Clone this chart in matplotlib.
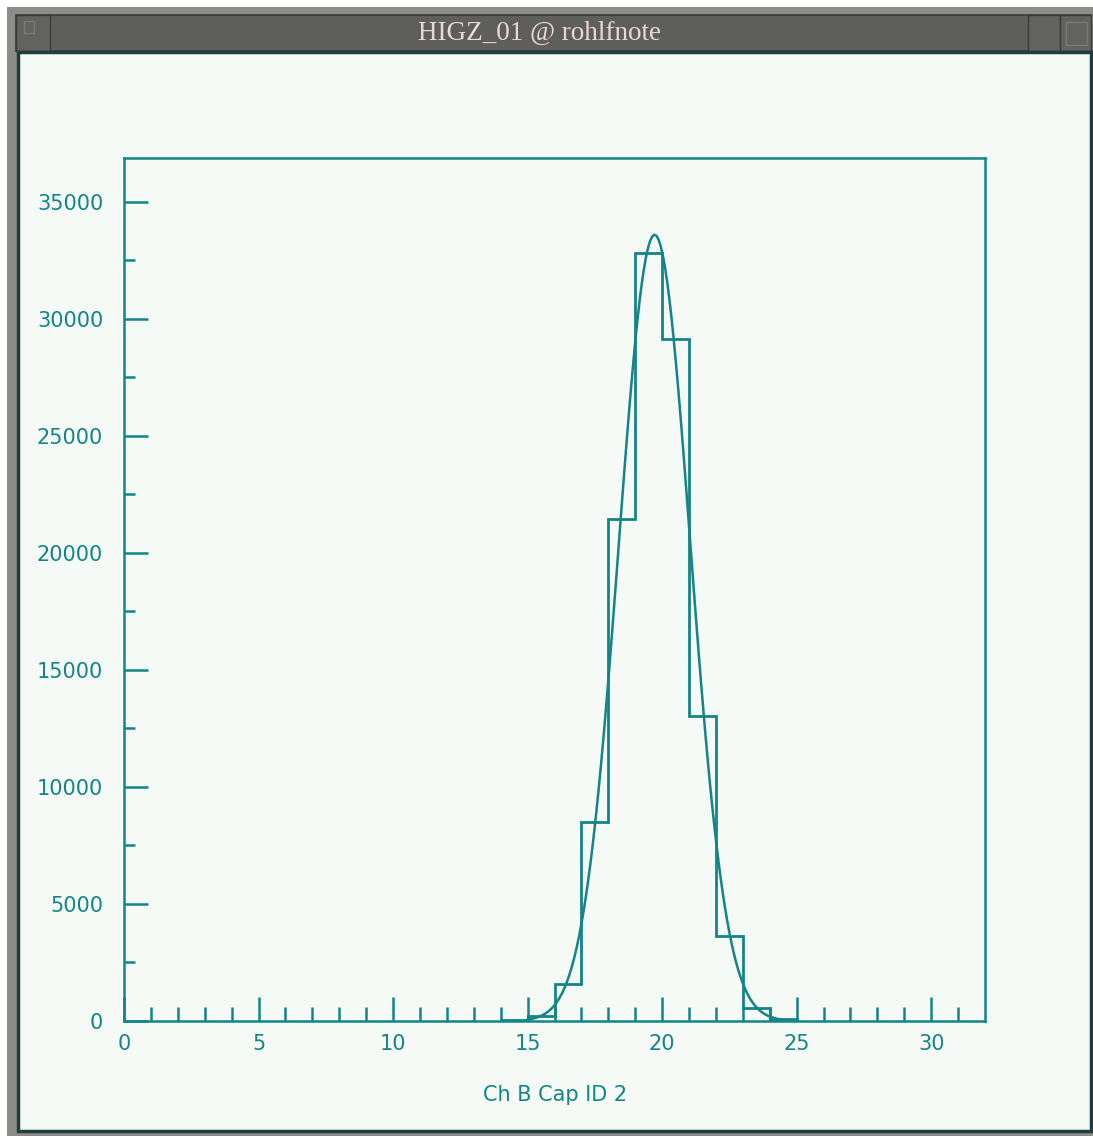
import numpy as np
import matplotlib.pyplot as plt
from matplotlib.patches import Rectangle

# --- data ---
bin_edges = [14, 15, 16, 17, 18, 19, 20, 21, 22, 23, 24, 25]
bin_counts = [40, 200, 1600, 8500, 21450, 32820, 29150, 13030, 3650, 560, 80]

# gaussian fit parameters (constant, mean, sigma) and drawn range
fit_const = 33600
fit_mean = 19.72
fit_sigma = 1.33
fit_range = (15.0, 24.5)

x_ticks = [0, 5, 10, 15, 20, 25, 30]
y_ticks = [0, 5000, 10000, 15000, 20000, 25000, 30000, 35000]
x_label = "Ch B Cap ID 2"
window_title = "HIGZ_01 @ rohlfnote"

# --- styles ---
teal = "#138587"
canvas_bg = "#f5faf7"
W, H = 1093, 1136

fig = plt.figure(figsize=(W / 100, H / 100), dpi=100)
fig.patch.set_facecolor("white")


def px_rect(x0, y0, x1, y1, **kw):
    # rectangle given in screen pixels (top-left origin), drawn behind the axes
    fig.patches.append(Rectangle((x0 / W, 1 - y1 / H), (x1 - x0) / W, (y1 - y0) / H,
                                 transform=fig.transFigure, figure=fig, zorder=-5, **kw))


# --- window frame ---
px_rect(7, 7, W, H, facecolor="#8c8c88", edgecolor="none")
px_rect(16, 15, W - 2, 51, facecolor="#5e5e5c", edgecolor="#3a3a3a", lw=1.2)
px_rect(16, 15, 50, 51, facecolor="#626260", edgecolor="#3a3a3a", lw=1.0)
px_rect(24, 21, 34, 33, facecolor="none", edgecolor="#7a7a78", lw=1.0)
px_rect(1028, 15, 1060, 51, facecolor="#626260", edgecolor="#3a3a3a", lw=1.0)
px_rect(1060, 15, W - 2, 51, facecolor="#626260", edgecolor="#3a3a3a", lw=1.0)
px_rect(1066, 22, W - 6, 45, facecolor="none", edgecolor="#7a7a78", lw=1.0)
px_rect(18, 52, W - 2, 1131, facecolor=canvas_bg, edgecolor="#1f3d3d", lw=2.5)

fig.text(540 / W, 1 - 33 / H, window_title, ha="center", va="center",
         color="#ead8d8", fontsize=19.5, family="Liberation Serif")

# --- axes ---
ax = fig.add_axes([124 / W, 1 - 1021 / H, (985 - 124) / W, (1021 - 158) / H])
ax.set_facecolor(canvas_bg)

ax.stairs(bin_counts, bin_edges, baseline=0, color=teal, lw=2.0)

xf = np.linspace(fit_range[0], fit_range[1], 120)
yf = fit_const * np.exp(-0.5 * ((xf - fit_mean) / fit_sigma) ** 2)
ax.plot(xf, yf, color=teal, lw=1.8)

ax.set_xlim(0, 32)
ax.set_ylim(0, 36880)

ax.set_xticks(x_ticks)
ax.set_xticks(np.arange(0, 32, 1), minor=True)
ax.set_yticks(y_ticks)
ax.set_yticks(np.arange(0, 36880, 2500), minor=True)

ax.tick_params(which="both", direction="in", color=teal, labelcolor=teal,
               labelsize=15, top=False, right=False, width=1.8)
ax.tick_params(axis="x", which="major", length=17, pad=9)
ax.tick_params(axis="x", which="minor", length=10)
ax.tick_params(axis="y", which="major", length=17, pad=15)
ax.tick_params(axis="y", which="minor", length=8)

for s in ax.spines.values():
    s.set_color(teal)
    s.set_linewidth(1.8)

fig.text(555 / W, 1 - 1095 / H, x_label, ha="center", va="center",
         color=teal, fontsize=15)

plt.savefig("out.png", dpi=100, facecolor=fig.get_facecolor())
plt.close()
